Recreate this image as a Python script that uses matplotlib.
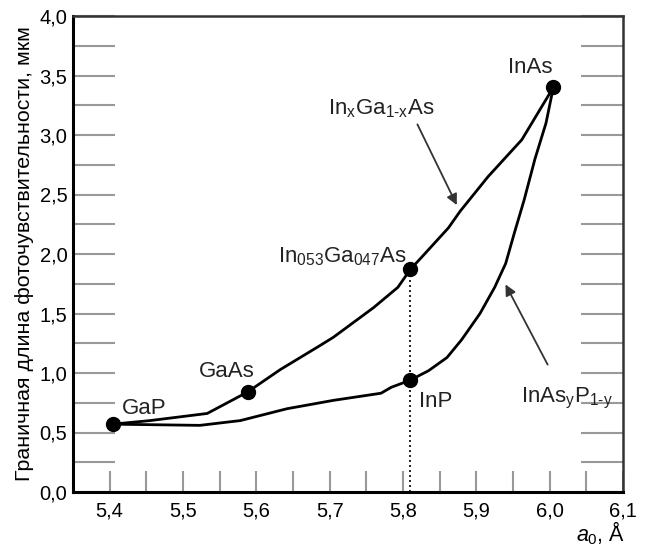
import matplotlib
matplotlib.use("Agg")
import matplotlib.pyplot as plt
import numpy as np

plt.rcParams['font.family'] = ['Liberation Sans', 'DejaVu Sans']
plt.rcParams['mathtext.fontset'] = 'custom'
plt.rcParams['mathtext.rm'] = 'Liberation Sans'
plt.rcParams['mathtext.it'] = 'Liberation Sans:italic'

# Upper curve: InxGa1-xAs branch (GaP -> GaAs -> In0.53Ga0.47As -> InAs)
upper_x = [5.404, 5.455, 5.533, 5.588, 5.633, 5.684, 5.705, 5.760, 5.793, 5.810,
           5.825, 5.862, 5.878, 5.916, 5.962, 6.005]
upper_y = [0.57, 0.60, 0.66, 0.84, 1.03, 1.22, 1.30, 1.55, 1.72, 1.87,
           1.97, 2.22, 2.36, 2.65, 2.96, 3.40]

# Lower curve: InAsyP1-y branch (GaP -> InP -> InAs)
lower_x = [5.404, 5.523, 5.578, 5.642, 5.660, 5.705, 5.770, 5.784, 5.810,
           5.835, 5.860, 5.880, 5.905, 5.925, 5.940, 5.952, 5.965, 5.980, 5.995, 6.005]
lower_y = [0.57, 0.56, 0.60, 0.70, 0.72, 0.77, 0.83, 0.88, 0.94,
           1.02, 1.13, 1.28, 1.50, 1.72, 1.92, 2.18, 2.45, 2.80, 3.10, 3.40]

# Marked compounds
point_names = ['GaP', 'GaAs', 'In053Ga047As', 'InP', 'InAs']
point_x = [5.404, 5.588, 5.810, 5.810, 6.005]
point_y = [0.57, 0.84, 1.87, 0.94, 3.40]

x_major = [5.4, 5.5, 5.6, 5.7, 5.8, 5.9, 6.0, 6.1]
x_labels = ['5,4', '5,5', '5,6', '5,7', '5,8', '5,9', '6,0', '6,1']
y_major = [0.0, 0.5, 1.0, 1.5, 2.0, 2.5, 3.0, 3.5, 4.0]
y_labels = ['0,0', '0,5', '1,0', '1,5', '2,0', '2,5', '3,0', '3,5', '4,0']

fig = plt.figure(figsize=(6.46, 5.47), dpi=100)
ax = fig.add_axes([73/646, 1-492/547, (623-73)/646, (492-16)/547])
ax.set_xlim(5.35, 6.1)
ax.set_ylim(0, 4.0)

ax.plot(upper_x, upper_y, color='black', lw=2.0, zorder=3)
ax.plot(lower_x, lower_y, color='black', lw=2.0, zorder=3)
ax.plot(point_x, point_y, 'o', color='black', ms=10, zorder=4)

# dotted vertical line at In0.53Ga0.47As / InP
ax.plot([point_x[2], point_x[2]], [0, point_y[2]], color='black', lw=1.2,
        ls=(0, (1.2, 1.8)), zorder=2)

# ticks
ax.set_xticks(x_major)
ax.set_xticklabels(x_labels)
ax.set_xticks(np.arange(5.45, 6.09, 0.1), minor=True)
ax.set_yticks(y_major)
ax.set_yticklabels(y_labels)
ax.set_yticks(np.arange(0.25, 4.0, 0.5), minor=True)

ax.tick_params(axis='x', which='both', direction='in', length=15, width=1.5,
               color='#999999', labelsize=14.5, pad=7, top=False)
ax.tick_params(axis='y', which='both', direction='in', length=30, width=1.5,
               color='#999999', labelsize=14.5, pad=4, right=True)

for s in ['left', 'bottom']:
    ax.spines[s].set_linewidth(2.2)
    ax.spines[s].set_color('black')
for s in ['top', 'right']:
    ax.spines[s].set_linewidth(1.8)
    ax.spines[s].set_color('#333333')

ax.set_ylabel('Граничная длина фоточувствительности, мкм', fontsize=15.4, labelpad=4)
fig.text(625/646, 1-533/547, r'$a_0$, Å', fontsize=15.5, ha='right', va='center')

fs = 16
c = '#222222'
ax.text(5.416, 0.655, 'GaP', fontsize=fs, ha='left', va='baseline', color=c)
ax.text(5.56, 0.97, 'GaAs', fontsize=fs, ha='center', va='baseline', color=c)
ax.text(5.718, 1.93, r'In$_{053}$Ga$_{047}$As', fontsize=fs, ha='center', va='baseline',
        color=c)
ax.text(5.822, 0.714, 'InP', fontsize=fs, ha='left', va='baseline', color=c)
ax.text(5.973, 3.52, 'InAs', fontsize=fs, ha='center', va='baseline', color=c)
ax.text(5.771, 3.17, r'In$_\mathrm{x}$Ga$_\mathrm{1\text{-}x}$As', fontsize=fs,
        ha='center', va='baseline', color=c)
ax.text(6.023, 0.756, r'InAs$_\mathrm{y}$P$_\mathrm{1\text{-}y}$', fontsize=fs,
        ha='center', va='baseline', color=c)

arrowprops = dict(arrowstyle='-|>', color='#333333', lw=1.3, mutation_scale=16)
ax.annotate('', xy=(5.875, 2.39), xytext=(5.818, 3.11), arrowprops=arrowprops)
ax.annotate('', xy=(5.938, 1.765), xytext=(5.999, 1.05), arrowprops=arrowprops)

fig.savefig('out.png', dpi=100)
